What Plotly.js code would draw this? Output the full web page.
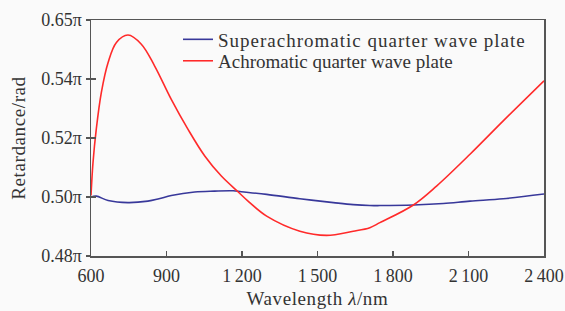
<!DOCTYPE html>
<html>
<head>
<meta charset="utf-8">
<script src="https://cdn.plot.ly/plotly-3.0.1.min.js"></script>
<style>
html,body{margin:0;padding:0;background:#fafafa;}
#chart{width:565px;height:311px;}
#chart .legend text{letter-spacing:1px;}
#chart .annotation text, #chart .ytitle{letter-spacing:0.6px;}
</style>
</head>
<body>
<div id="chart"></div>
<script>
// Wavelength (nm) and retardance (units of π)
var superWl = [600, 621, 668, 747, 826, 870, 919, 1012, 1091, 1165, 1197, 1298, 1430, 1563, 1642, 1708, 1748, 1881, 2000, 2106, 2238, 2400];
var superRet = [0.5000, 0.5003, 0.4988, 0.4981, 0.4986, 0.4994, 0.5005, 0.5017, 0.5020, 0.5021, 0.5018, 0.5009, 0.4994, 0.4981, 0.4974, 0.4971, 0.4971, 0.4973, 0.4978, 0.4986, 0.4994, 0.5010];

var achroWl = [600, 608, 621, 641, 668, 701, 747, 800, 853, 919, 985, 1052, 1118, 1185, 1224, 1298, 1430, 1536, 1642, 1708, 1748, 1881, 1973, 2106, 2238, 2400];
var achroRet = [0.5005, 0.5117, 0.5230, 0.5354, 0.5456, 0.5524, 0.5549, 0.5518, 0.5444, 0.5331, 0.5230, 0.5139, 0.5071, 0.5017, 0.4986, 0.4935, 0.4884, 0.4870, 0.4884, 0.4896, 0.4913, 0.4973, 0.5037, 0.5145, 0.5258, 0.5394];

var xTickVals = [600, 900, 1200, 1500, 1800, 2100, 2400];
var xTickText = ['600', '900', '1\u2009200', '1\u2009500', '1\u2009800', '2\u2009100', '2\u2009400'];
var yTickVals = [0.48, 0.50, 0.52, 0.54, 0.56];
var yTickText = ['0.48π', '0.50π', '0.52π', '0.54π', '0.65π'];

var seriesNames = ['Superachromatic quarter wave plate', 'Achromatic quarter wave plate'];
var xTitle = 'Wavelength <i>λ</i>/nm';
var yTitle = 'Retardance/rad';

var fam = '"Liberation Serif", "Times New Roman", serif';
var font = {family: fam, size: 18, color: '#333'};
var titleFont = {family: fam, size: 19, color: '#333'};
var legFont = {family: fam, size: 19, color: '#333'};

var traces = [
  {x: superWl, y: superRet, name: seriesNames[0], legend: 'legend', mode: 'lines', line: {color: '#38389a', width: 1.6, shape: 'spline', smoothing: 1}},
  {x: achroWl, y: achroRet, name: seriesNames[1], legend: 'legend2', mode: 'lines', line: {color: '#ff2a2a', width: 1.6, shape: 'spline', smoothing: 1}},
  {x: [600], y: [0.5], yaxis: 'y2', mode: 'lines', showlegend: false, hoverinfo: 'skip', line: {width: 0}}
];

var layout = {
  width: 565, height: 311,
  margin: {l: 91, r: 21, t: 20, b: 55, pad: 0},
  paper_bgcolor: '#fafafa', plot_bgcolor: '#fafafa',
  font: font,
  showlegend: true,
  legend: {x: 0.192, y: 0.9175, xanchor: 'left', yanchor: 'middle', bgcolor: 'rgba(0,0,0,0)', font: legFont},
  legend2: {x: 0.192, y: 0.8266, xanchor: 'left', yanchor: 'middle', bgcolor: 'rgba(0,0,0,0)', font: legFont},
  xaxis: {
    range: [600, 2400], tickvals: xTickVals, ticktext: xTickText,
    showgrid: false, zeroline: false, showline: true, linecolor: '#555', linewidth: 1.5, mirror: true,
    ticks: 'inside', ticklen: 5, tickcolor: '#555', tickwidth: 1.2, ticklabelstandoff: 3,
    tickfont: font
  },
  yaxis: {
    range: [0.48, 0.56], tickvals: yTickVals, ticktext: yTickText,
    showgrid: false, zeroline: false, showline: true, linecolor: '#555', linewidth: 1.5, mirror: true,
    ticks: 'outside', ticklen: 4, tickcolor: '#555', tickwidth: 1.2,
    tickfont: font,
    title: {text: yTitle, font: titleFont, standoff: 10}
  },
  yaxis2: {
    overlaying: 'y', range: [0.48, 0.56], tickvals: yTickVals, showticklabels: false,
    showgrid: false, zeroline: false, showline: false,
    ticks: 'inside', ticklen: 5, tickcolor: '#555', tickwidth: 1.2, side: 'left'
  },
  annotations: [{
    text: xTitle, xref: 'paper', yref: 'paper', x: 0.5, y: -0.18,
    xanchor: 'center', yanchor: 'middle', showarrow: false, font: titleFont
  }]
};

Plotly.newPlot('chart', traces, layout, {displayModeBar: false, staticPlot: true}).then(function (gd) {
  gd.querySelectorAll('.legend, .legend .scrollbox').forEach(function (el) {
    el.removeAttribute('clip-path');
  });
});
</script>
</body>
</html>
